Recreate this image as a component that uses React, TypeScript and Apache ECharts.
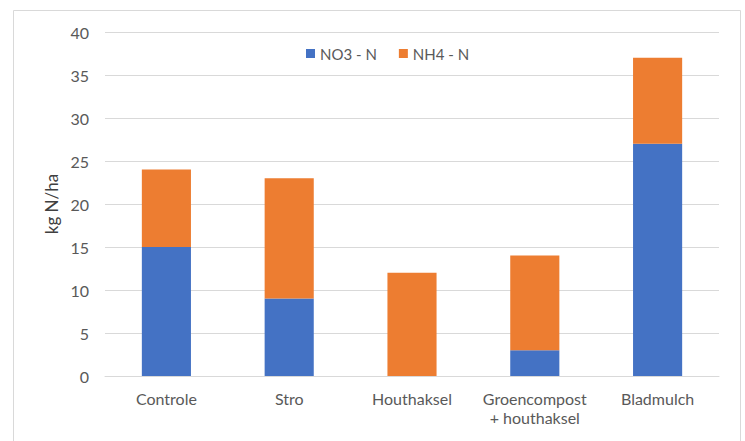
import React, { useEffect, useRef } from "react";
import * as echarts from "echarts";

const categories = ["Controle", "Stro", "Houthaksel", "Groencompost\n+ houthaksel", "Bladmulch"];
const no3Values = [15, 9, 0, 3, 27];
const nh4Values = [9, 14, 12, 11, 10];
const seriesNames = ["NO3 - N", "NH4 - N"];
const yTicks = { min: 0, max: 40, interval: 5 };
const yTitle = "kg N/ha";

const FONT = "Lato, 'Open Sans', sans-serif";

export default function App() {
  const ref = useRef<HTMLDivElement>(null);

  useEffect(() => {
    document.body.style.margin = "0";
    const chart = echarts.init(ref.current!, undefined, { renderer: "svg" });
    chart.setOption({
      animation: false,
      backgroundColor: "#ffffff",
      textStyle: { fontFamily: FONT },
      graphic: [
        {
          type: "rect",
          shape: { x: 13.5, y: 10.5, width: 727, height: 450 },
          style: { fill: "none", stroke: "#d9d9d9", lineWidth: 1 },
          silent: true,
        },
      ],
      legend: {
        top: 41,
        left: 301,
        itemWidth: 9,
        itemHeight: 9,
        itemGap: 22,
        icon: "rect",
        textStyle: { color: "#595959", fontSize: 15, fontFamily: FONT },
        data: seriesNames,
      },
      grid: { left: 105, right: 26, top: 32, bottom: 65 },
      xAxis: {
        type: "category",
        data: categories,
        axisLine: { lineStyle: { color: "#d9d9d9", width: 1 } },
        axisTick: { show: false },
        axisLabel: {
          color: "#595959",
          fontSize: 16,
          fontFamily: FONT,
          margin: 13,
          lineHeight: 19,
          interval: 0,
        },
      },
      yAxis: {
        type: "value",
        min: yTicks.min,
        max: yTicks.max,
        interval: yTicks.interval,
        name: yTitle,
        nameLocation: "middle",
        nameGap: 45,
        nameTextStyle: { color: "#404040", fontSize: 17, fontFamily: FONT },
        axisLine: { show: false },
        axisTick: { show: false },
        splitLine: { lineStyle: { color: "#d9d9d9", width: 1 } },
        axisLabel: { color: "#595959", fontSize: 16, fontFamily: FONT, margin: 16 },
      },
      series: [
        {
          name: seriesNames[0],
          type: "bar",
          stack: "total",
          data: no3Values,
          barWidth: "40%",
          itemStyle: { color: "#4472c4" },
        },
        {
          name: seriesNames[1],
          type: "bar",
          stack: "total",
          data: nh4Values,
          barWidth: "40%",
          itemStyle: { color: "#ed7d31" },
        },
      ],
    });
    return () => chart.dispose();
  }, []);

  return <div ref={ref} style={{ width: 745, height: 441 }} />;
}
